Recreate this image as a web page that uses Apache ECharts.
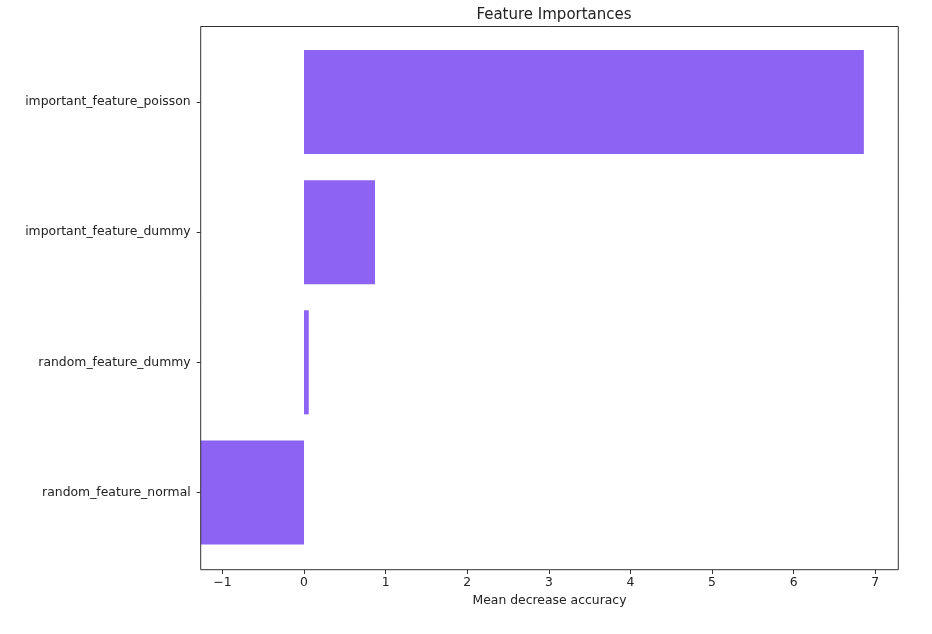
<!DOCTYPE html>
<html>
<head>
<meta charset="utf-8">
<script src="https://cdn.jsdelivr.net/npm/echarts@6/dist/echarts.min.js"></script>
<style>
  html, body { margin: 0; padding: 0; background: #fff; }
  #chart { width: 932px; height: 634px; }
</style>
</head>
<body>
<div id="chart"></div>
<script>
const categories = ['important_feature_poisson', 'important_feature_dummy', 'random_feature_dummy', 'random_feature_normal'];
const importances = [6.86, 0.87, 0.058, -1.27];
const xTicks = [-1, 0, 1, 2, 3, 4, 5, 6, 7];
const xMin = -1.266;
const xMax = 7.282;

const chart = echarts.init(document.getElementById('chart'), null, { renderer: 'canvas' });
const font = 'DejaVu Sans';
const fmt = v => (v < 0 ? '\u2212' + Math.abs(v) : String(v));

chart.setOption({
  animation: false,
  backgroundColor: '#ffffff',
  textStyle: { fontFamily: font },
  title: {
    text: 'Feature Importances',
    left: 549,
    textAlign: 'center',
    top: 3,
    textStyle: { fontFamily: font, fontSize: 15, fontWeight: 'normal', color: '#222' }
  },
  grid: { left: 200.7, right: 33.7, top: 37, bottom: 76.5, containLabel: false },
  xAxis: {
    type: 'value',
    min: xMin,
    max: xMax,
    splitNumber: 8,
    offset: 12.5,
    name: 'Mean decrease accuracy',
    nameLocation: 'middle',
    nameGap: 25,
    nameTextStyle: { fontFamily: font, fontSize: 12.4, color: '#222' },
    axisLine: { show: false, onZero: false },
    axisTick: { show: true, length: 4, customValues: xTicks, lineStyle: { color: '#333', width: 1 } },
    axisLabel: {
      customValues: xTicks,
      formatter: fmt,
      margin: 7,
      fontFamily: font, fontSize: 12.4, color: '#222'
    },
    splitLine: { show: false }
  },
  yAxis: {
    type: 'category',
    data: categories,
    inverse: true,
    axisLine: { show: false, onZero: false },
    axisTick: { show: true, length: 4, alignWithLabel: true, lineStyle: { color: '#333', width: 1 } },
    axisLabel: { margin: 10, fontFamily: font, fontSize: 12.4, color: '#222' },
    splitLine: { show: false }
  },
  graphic: [{
    type: 'rect',
    z: 100,
    silent: true,
    shape: { x: 200.7, y: 26.5, width: 697.6, height: 543.2 },
    style: { fill: 'none', stroke: '#333', lineWidth: 1 }
  }],
  series: [{
    type: 'bar',
    data: importances,
    barWidth: '80%',
    itemStyle: { color: '#8C63F2' },
    clip: true
  }]
});
</script>
</body>
</html>
